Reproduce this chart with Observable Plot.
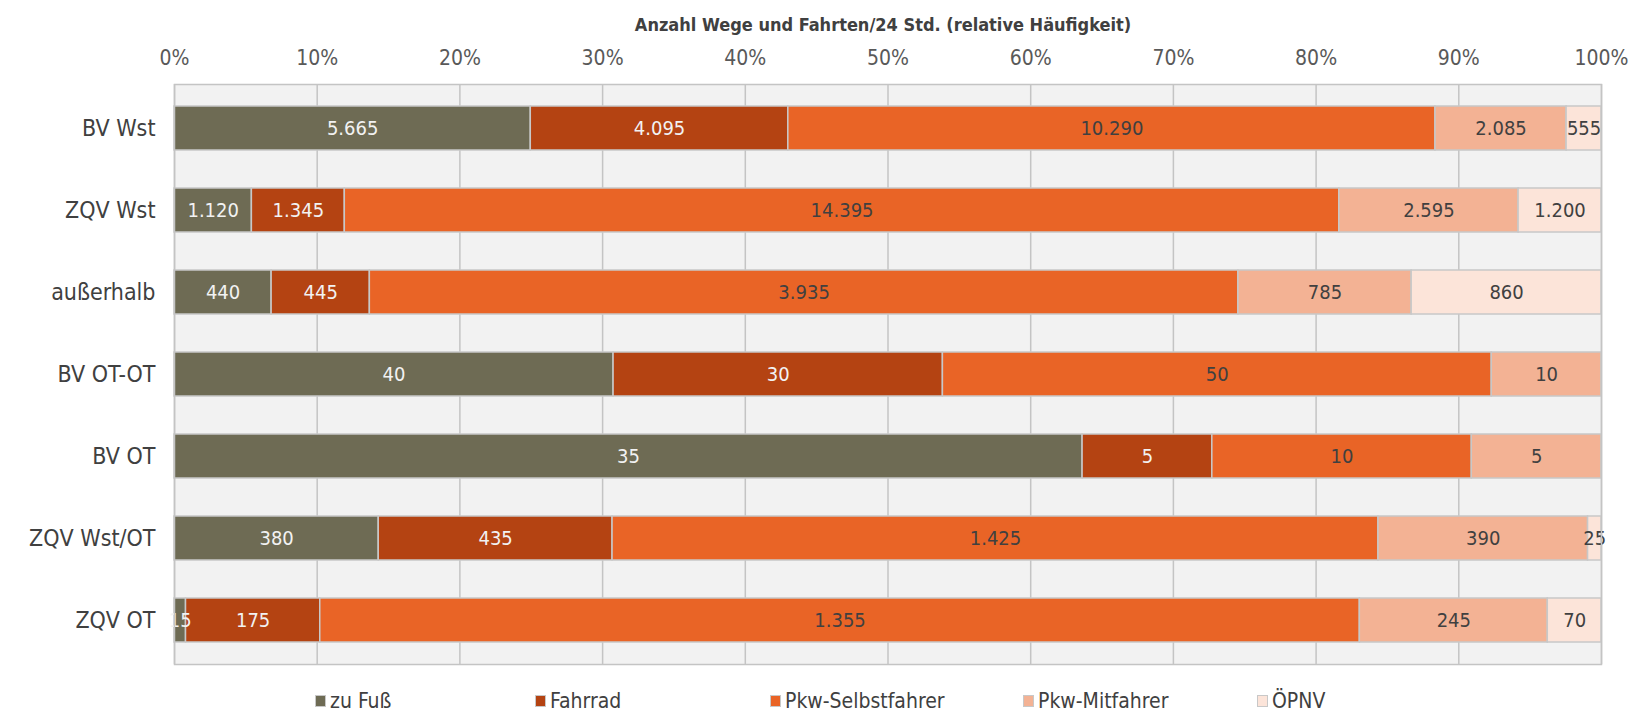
<!DOCTYPE html>
<html>
<head>
<meta charset="utf-8">
<script src="https://cdn.jsdelivr.net/npm/d3@7"></script>
<script src="https://cdn.jsdelivr.net/npm/@observablehq/plot@0.6"></script>
<style>
  html, body { margin: 0; padding: 0; background: #ffffff; }
  body { width: 1646px; height: 717px; overflow: hidden; font-family: "Liberation Sans Narrow", "DejaVu Sans Condensed", "Liberation Sans", sans-serif; }
  #chart { position: relative; }
  #legend { position: relative; height: 32px; }
  .item { position: absolute; top: 0; height: 32px; display: flex; align-items: center; font-size: 21px; color: #404040; }
  .sw { width: 11px; height: 12px; margin-right: 4px; border: 1px solid #c8c8c8; box-sizing: border-box; }
</style>
</head>
<body>
<div id="chart"></div>
<div id="legend"></div>
<script>
const categories = ["BV Wst", "ZQV Wst", "außerhalb", "BV OT-OT", "BV OT", "ZQV Wst/OT", "ZQV OT"];
const modes = ["zu Fuß", "Fahrrad", "Pkw-Selbstfahrer", "Pkw-Mitfahrer", "ÖPNV"];
const zuFuss          = [5665, 1120, 440, 40, 35, 380, 15];
const fahrrad         = [4095, 1345, 445, 30, 5, 435, 175];
const pkwSelbstfahrer = [10290, 14395, 3935, 50, 10, 1425, 1355];
const pkwMitfahrer    = [2085, 2595, 785, 10, 5, 390, 245];
const oepnv           = [555, 1200, 860, 0, 0, 25, 70];
const xTicks = [0, 0.1, 0.2, 0.3, 0.4, 0.5, 0.6, 0.7, 0.8, 0.9, 1];
const axisTitle = "Anzahl Wege und Fahrten/24 Std. (relative Häufigkeit)";

const colors = ["#6e6b54", "#b44312", "#e96426", "#f3b294", "#fce4d9"];
const labelColors = ["#f2f2f2", "#f2f2f2", "#404040", "#404040", "#404040"];
const legendX = [315, 535, 770, 1023, 1257];

const series = [zuFuss, fahrrad, pkwSelbstfahrer, pkwMitfahrer, oepnv];
const rows = [];
categories.forEach((c, i) => {
  modes.forEach((m, j) => {
    rows.push({cat: c, mode: m, value: series[j][i]});
  });
});
const nonZero = rows.filter(d => d.value > 0);

const de = d3.formatLocale({decimal: ",", thousands: ".", grouping: [3], currency: ["", " €"]});
const fmt = de.format(",");

const font = '"Liberation Sans Narrow", "DejaVu Sans Condensed", "Liberation Sans", sans-serif';

const chart = Plot.plot({
  width: 1646,
  height: 685,
  marginLeft: 174,
  marginRight: 45,
  marginTop: 84,
  marginBottom: 21,
  style: {fontFamily: font, background: "#ffffff"},
  x: {domain: [0, 1], axis: null},
  y: {domain: categories, paddingInner: 0.46, paddingOuter: 0.23, axis: null},
  color: {domain: modes, range: colors},
  marks: [
    Plot.frame({fill: "#f2f2f2", stroke: "none"}),
    Plot.ruleX(xTicks, {stroke: "#c4c4c4", strokeWidth: 1.5}),
    Plot.barX(nonZero, Plot.stackX({offset: "normalize"}, {
      x: "value", y: "cat", z: "mode", fill: "mode", stroke: "#c8c8c8", strokeWidth: 1.5
    })),
    Plot.textX(nonZero, Plot.stackX({offset: "normalize"}, {
      x: "value", y: "cat", z: "mode", text: d => fmt(d.value),
      fill: d => labelColors[modes.indexOf(d.mode)], fontSize: 20
    })),
    Plot.frame({stroke: "#c4c4c4", strokeWidth: 1.5}),
    Plot.axisX(xTicks, {anchor: "top", tickSize: 0, tickPadding: 20, fontSize: 21, fill: "#595959",
      tickFormat: d => Math.round(d * 100) + "%", label: null}),
    Plot.axisY({anchor: "left", tickSize: 0, tickPadding: 19, fontSize: 23, fill: "#404040", label: null}),
    Plot.text([axisTitle], {frameAnchor: "top", dy: -66, dx: -5, fontSize: 18, fontWeight: 600, fill: "#404040"})
  ]
});
document.getElementById("chart").appendChild(chart);

const legend = document.getElementById("legend");
modes.forEach((m, i) => {
  const item = document.createElement("div");
  item.className = "item";
  item.style.left = legendX[i] + "px";
  const sw = document.createElement("div");
  sw.className = "sw";
  sw.style.background = colors[i];
  const t = document.createElement("span");
  t.textContent = m;
  item.appendChild(sw);
  item.appendChild(t);
  legend.appendChild(item);
});
</script>
</body>
</html>
